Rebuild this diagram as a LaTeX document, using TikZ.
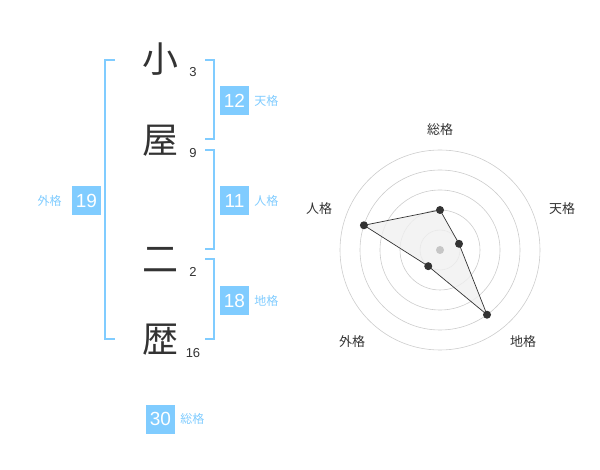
\documentclass[tikz,border=0pt]{standalone}
\usepackage{fontspec}
\setmainfont{Liberation Sans}
\newfontfamily\cjk{Noto Sans CJK JP}
\usepackage{xcolor}
\usepackage{tikz}
\usetikzlibrary{positioning,calc}
\definecolor{kakublue}{HTML}{80CCFF}
\definecolor{inkgray}{HTML}{333333}

\begin{document}
\begin{tikzpicture}[x=1pt,y=-1pt,
  kanji/.style={font=\cjk\fontsize{36}{36}\selectfont,text=inkgray,inner sep=0pt},
  strokes/.style={font=\fontsize{13}{13}\selectfont,text=inkgray,inner sep=0pt},
  numbox/.style={fill=kakublue,text=white,minimum size=29pt,inner sep=0pt,font=\fontsize{19}{19}\selectfont},
  kakulabel/.style={text=kakublue,font=\cjk\fontsize{12}{12}\selectfont,inner sep=0pt},
  bracket/.style={kakublue,line width=2pt},
  ring/.style={gray!40,line width=0.6pt},
  axislabel/.style={font=\cjk\fontsize{13}{13}\selectfont,text=inkgray,inner sep=0pt}]
  \useasboundingbox (0,0) rectangle (600,470);
  \node[kanji] (ko) at (160,59) {小};
  \node[kanji] (ya) at (160,141) {屋};
  \node[kanji] (ni) at (160,260) {二};
  \node[kanji] (reki) at (160,340) {歴};
  \node[strokes] (ko n) at (193,72) {3};
  \node[strokes] (ya n) at (193,153) {9};
  \node[strokes] (ni n) at (193,272) {2};
  \node[strokes] (reki n) at (193,353) {16};
  \draw[bracket] (115,60) -- (105,60) -- (105,339) -- (115,339);
  \draw[bracket] (205,60) -- (214,60) -- (214,139) -- (205,139);
  \draw[bracket] (205,150) -- (214,150) -- (214,249) -- (205,249);
  \draw[bracket] (205,259) -- (214,259) -- (214,339) -- (205,339);
  \node[numbox] (ten) at (234.5,100.5) {12};
  \node[kakulabel,right=5pt of ten] (ten l) {天格};
  \node[numbox] (jin) at (234.5,200.5) {11};
  \node[kakulabel,right=5pt of jin] (jin l) {人格};
  \node[numbox] (chi) at (234.5,300.5) {18};
  \node[kakulabel,right=5pt of chi] (chi l) {地格};
  \node[numbox] (gai) at (86.5,200.5) {19};
  \node[kakulabel,left=10pt of gai] (gai l) {外格};
  \node[numbox] (so) at (160.5,419) {30};
  \node[kakulabel,right=5pt of so] (so l) {総格};
  \begin{scope}[xshift=440pt,yshift=-250pt,y=1pt]
    \foreach \r in {20,40,60,80,100}
      \draw[ring] (0,0) circle (\r);
    \coordinate (p so) at (90:40);
    \coordinate (p ten) at (18:20);
    \coordinate (p chi) at (-54:80);
    \coordinate (p gai) at (-126:20);
    \coordinate (p jin) at (162:80);
    \draw[draw=inkgray,fill=gray!12,fill opacity=0.8,line width=0.7pt] (p so) -- (p ten) -- (p chi) -- (p gai) -- (p jin) -- cycle;
    \fill[gray!45] (0,0) circle (4);
    \foreach \p in {so,ten,chi,gai,jin}
      \fill[inkgray] (p \p) circle (4);
  \end{scope}
  \node[axislabel] (a so) at (440,130) {総格};
  \node[axislabel] (a ten) at (562,209) {天格};
  \node[axislabel] (a jin) at (319,209) {人格};
  \node[axislabel] (a gai) at (352,342) {外格};
  \node[axislabel] (a chi) at (523,342) {地格};
\end{tikzpicture}
\end{document}
